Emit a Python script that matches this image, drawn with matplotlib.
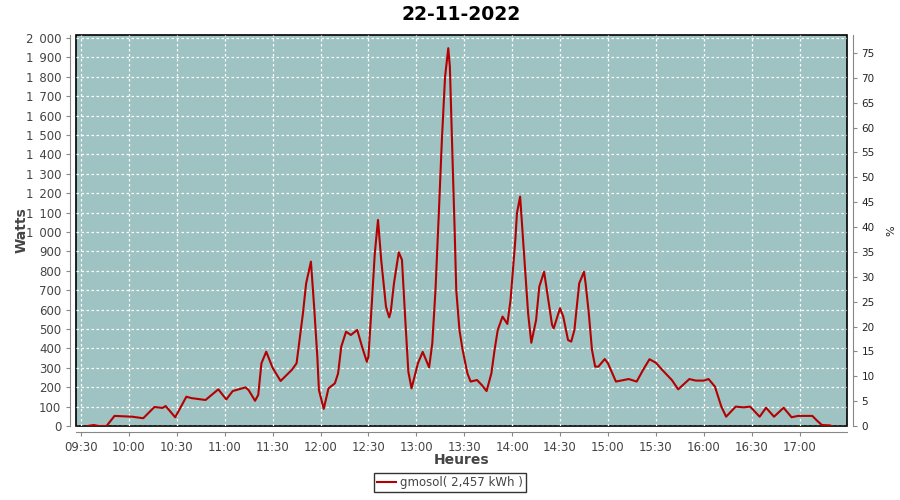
import matplotlib.pyplot as plt
from matplotlib.ticker import FuncFormatter, MultipleLocator

# relevé de la journée (heure, puissance en W)
heures = ["09:34", "09:38", "09:41", "09:46", "09:51", "09:57", "10:02", "10:09",
          "10:16", "10:21", "10:23", "10:29", "10:36", "10:39", "10:48", "10:56",
          "11:01", "11:05", "11:13", "11:15", "11:19", "11:21", "11:23", "11:26",
          "11:30", "11:35", "11:42", "11:45", "11:49", "11:51", "11:54", "11:56",
          "11:58", "11:59", "12:02", "12:05", "12:09", "12:11", "12:13", "12:16",
          "12:19", "12:23", "12:26", "12:29", "12:30", "12:32", "12:34", "12:36",
          "12:38", "12:41", "12:43", "12:44", "12:46", "12:49", "12:51", "12:53",
          "12:55", "12:57", "13:01", "13:04", "13:08", "13:10", "13:12", "13:14",
          "13:16", "13:18", "13:20", "13:21", "13:22", "13:23", "13:24", "13:25",
          "13:27", "13:29", "13:32", "13:34", "13:38", "13:41", "13:44", "13:47",
          "13:49", "13:51", "13:54", "13:57", "13:59", "14:02", "14:03", "14:05",
          "14:06", "14:08", "14:10", "14:12", "14:15", "14:17", "14:20", "14:22",
          "14:25", "14:26", "14:30", "14:32", "14:35", "14:37", "14:39", "14:42",
          "14:45", "14:46", "14:48", "14:50", "14:52", "14:54", "14:58", "15:00",
          "15:05", "15:13", "15:18", "15:22", "15:26", "15:30", "15:34", "15:40",
          "15:44", "15:51", "15:55", "16:00", "16:03", "16:07", "16:11", "16:14",
          "16:20", "16:25", "16:29", "16:35", "16:39", "16:44", "16:50", "16:55",
          "16:59", "17:08", "17:11", "17:14", "17:19", "17:20"]
watts = [0, 5, 0, 0, 52, 50, 48, 40,
         98, 93, 103, 45, 151, 144, 134, 189,
         137, 180, 199, 185, 130, 160, 323, 383,
         300, 232, 289, 323, 581, 735, 847, 615,
         357, 186, 88, 194, 220, 271, 409, 486,
         469, 495, 409, 331, 357, 615, 890, 1062,
         856, 615, 560, 589, 735, 895, 856, 560,
         280, 194, 323, 382, 302, 426, 701, 1079,
         1474, 1800, 1947, 1852, 1560, 1285, 1010, 701,
         495, 392, 271, 229, 237, 211, 180, 271,
         392, 495, 564, 526, 649, 959, 1096, 1182,
         1062, 821, 581, 429, 546, 718, 795, 684,
         521, 503, 607, 564, 443, 435, 495, 735,
         795, 735, 581, 392, 306, 306, 345, 323,
         229, 242, 229, 289, 344, 326, 289, 237,
         189, 242, 234, 234, 242, 203, 100, 48,
         100, 96, 100, 48, 94, 48, 94, 45,
         52, 52, 27, 5, 3, 0]

ticks_x = ["09:30", "10:00", "10:30", "11:00", "11:30", "12:00", "12:30", "13:00",
           "13:30", "14:00", "14:30", "15:00", "15:30", "16:00", "16:30", "17:00"]


def to_h(s):
    h, m = s.split(":")
    return int(h) + int(m) / 60


x = [to_h(h) for h in heures]
gris = "#444444"

fig = plt.figure(figsize=(9, 5), dpi=100)
ax = fig.add_axes([76 / 900, 1 - 426 / 500, 771 / 900, 391 / 500])
ax.set_facecolor("#9ec3c2")
ax.patch.set_edgecolor("black")
ax.patch.set_linewidth(1.2)

ax.plot(x, watts, color="#b40000", lw=1.5, label="gmosol( 2,457 kWh )")

ax.set_xlim(9.448, 17.495)
ax.set_ylim(0, 2015)
ax.set_xticks([to_h(t) for t in ticks_x])
ax.set_xticklabels(ticks_x)
ax.yaxis.set_major_locator(MultipleLocator(100))
ax.yaxis.set_major_formatter(FuncFormatter(lambda v, p: f"{int(v):,}".replace(",", "\u2002")))
ax.grid(True, color="white", ls=(0, (2, 2)), lw=0.9)

for s in ["top", "right"]:
    ax.spines[s].set_visible(False)
for s in ["left", "bottom"]:
    ax.spines[s].set_position(("outward", 4))
    ax.spines[s].set_color("#888888")
ax.tick_params(colors="#888888", labelcolor=gris, labelsize=8.5, length=3)

ax.set_xlabel("Heures", fontsize=10, fontweight="bold", color=gris)
ax.set_ylabel("Watts", fontsize=10, fontweight="bold", color=gris)
ax.xaxis.set_label_coords(0.5, -0.069)
ax.yaxis.set_label_coords(-0.061, 0.5)
ax.set_title("22-11-2022", fontsize=13.5, fontweight="bold", pad=11)

ax2 = ax.twinx()
ax2.set_ylim(0, 78.6)
ax2.yaxis.set_major_locator(MultipleLocator(5))
for s in ["top", "left", "bottom"]:
    ax2.spines[s].set_visible(False)
ax2.spines["right"].set_position(("outward", 4))
ax2.spines["right"].set_color("#888888")
ax2.tick_params(colors="#888888", labelcolor="#222222", labelsize=7.5, length=3)
ax2.set_ylabel("%", fontsize=8, color="#222222", labelpad=8)

leg = fig.legend(loc="lower center", bbox_to_anchor=(0.5, 0.004), frameon=True,
                 fontsize=8.5, fancybox=False, edgecolor="black", handlelength=1.6,
                 handletextpad=0.4, borderpad=0.25, labelcolor=gris)
leg.get_frame().set_linewidth(1)

fig.savefig("out.png", dpi=100)
